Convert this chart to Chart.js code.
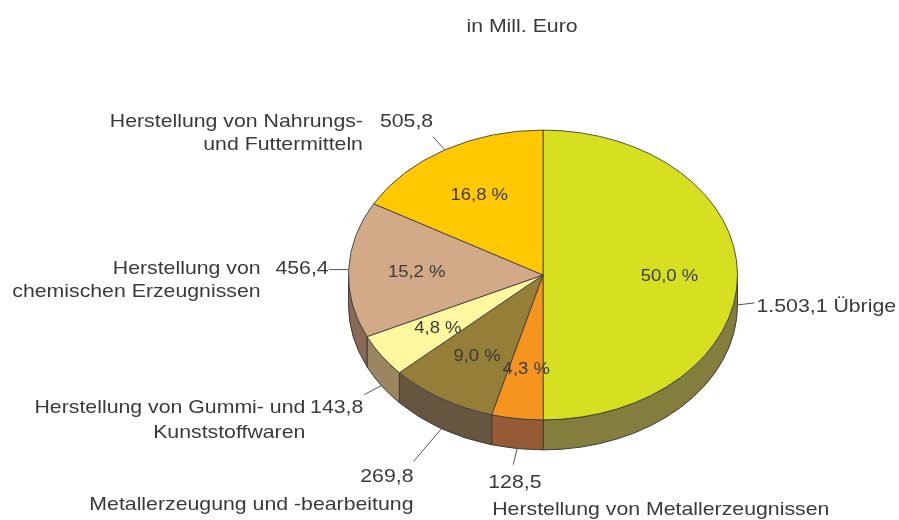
<!DOCTYPE html>
<html>
<head>
<meta charset="utf-8">
<script src="https://cdn.jsdelivr.net/npm/chart.js@4.4.1/dist/chart.umd.min.js"></script>
<style>
  html, body { margin: 0; padding: 0; background: #fff; }
  #wrap { position: relative; width: 899px; height: 520px; }
</style>
</head>
<body>
<div id="wrap"><canvas id="pie3d"></canvas></div>
<script>
// Data (in Mill. Euro), clockwise from 12 o'clock
const labels = ["Übrige", "Herstellung von Metallerzeugnissen", "Metallerzeugung und -bearbeitung",
  "Herstellung von Gummi- und Kunststoffwaren", "Herstellung von chemischen Erzeugnissen",
  "Herstellung von Nahrungs- und Futtermitteln"];
const values = [1503.1, 128.5, 269.8, 143.8, 456.4, 505.8];
const nameLines = [["Übrige"], ["Herstellung von Metallerzeugnissen"], ["Metallerzeugung und -bearbeitung"],
  ["Herstellung von Gummi- und", "Kunststoffwaren"], ["Herstellung von", "chemischen Erzeugnissen"],
  ["Herstellung von Nahrungs-", "und Futtermitteln"]];

const topColors = ['#d6e020', '#f5941e', '#947e38', '#fff7a0', '#d2aa87', '#ffc800'];
const sideColors = ['#837e3e', '#955a36', '#665640', '#9a8660', '#8a6a55', '#a08000'];

//------------------------------------------

// german number format
function de(v) {
  const [i, f] = v.toFixed(1).split('.');
  return i.replace(/\B(?=(\d{3})+(?!\d))/g, '.') + ',' + f;
}

// text is slightly wide in the original
function txt(ctx, s, x, y, align, size) {
  ctx.save();
  ctx.font = size + "px 'Liberation Sans', Arial, sans-serif";
  ctx.textAlign = align;
  ctx.textBaseline = 'alphabetic';
  ctx.translate(x, y);
  ctx.scale(1.12, 1);
  ctx.fillText(s, 0, 0);
  ctx.restore();
}

// label placement relative to the anchor on the pie rim
// wall: anchor sits at the bottom of the side wall
// line: end of leader line, val: value text, name: name block (last = line height)
const place = [
  {wall: true, line: [17, -2], val: [19, 7, 'left'], name: null},
  {wall: true, line: [-4, 16], val: [-29, 39, 'left'], name: [-25, 66, 'left', 23]},
  {wall: true, line: [-28, 33], val: [-28, 53, 'right'], name: [-28, 81, 'right', 23]},
  {wall: true, line: [-17, 9], val: [-18, 27, 'right'], name: [-76, 27, 'right', 25]},
  {wall: false, line: [-20, 0], val: [-20, 4, 'right'], name: [-88, 4, 'right', 23]},
  {wall: false, line: [-12, -13], val: [-65, -23, 'left'], name: [-82, -23, 'right', 23]}
];

//------------------------------------------

// plugin: tilt the pie, draw the side wall and the labels
const pie3d = {
  id: 'pie3d',
  beforeDatasetsDraw(chart, args, opts) {
    const {ctx} = chart;
    const arcs = chart.getDatasetMeta(0).data;
    const cx = arcs[0].x, cy = arcs[0].y, rx = arcs[0].outerRadius;
    const ry = rx * opts.tilt, d = opts.depth;

    arcs.forEach((arc, i) => {
      const s = Math.max(arc.startAngle, 0), e = Math.min(arc.endAngle, Math.PI);
      if (e <= s) return;
      ctx.beginPath();
      ctx.ellipse(cx, cy, rx, ry, 0, s, e);
      ctx.lineTo(cx + rx * Math.cos(e), cy + d + ry * Math.sin(e));
      ctx.ellipse(cx, cy + d, rx, ry, 0, e, s, true);
      ctx.closePath();
      ctx.fillStyle = sideColors[i];
      ctx.fill();
      ctx.lineWidth = 1;
      ctx.strokeStyle = '#3c3c3c';
      ctx.stroke();
    });

    ctx.save();
    ctx.translate(0, cy);
    ctx.scale(1, opts.tilt);
    ctx.translate(0, -cy);
  },
  afterDatasetsDraw(chart, args, opts) {
    const {ctx} = chart;
    ctx.restore();
    const arcs = chart.getDatasetMeta(0).data;
    const total = values.reduce((a, b) => a + b, 0);
    ctx.fillStyle = '#3a3a3a';

    // title
    txt(ctx, 'in Mill. Euro', 522, 32, 'center', 19);

    arcs.forEach((arc, i) => {
      const cx = arc.x, cy = arc.y, r = arc.outerRadius;
      const mid = (arc.startAngle + arc.endAngle) / 2;
      const c = Math.cos(mid), sn = Math.sin(mid);

      // percentage
      const px = cx + c * r * 0.65, py = cy + sn * r * 0.65 * opts.tilt;
      ctx.fillStyle = '#3a3a3a';
      txt(ctx, de(values[i] / total * 100) + ' %', px, py + 6, 'center', 16.5);

      // anchor on rim
      const p = place[i];
      const ax = cx + c * r, ay = cy + sn * r * opts.tilt + (p.wall ? opts.depth : 0);
      ctx.beginPath();
      ctx.moveTo(ax, ay);
      ctx.lineTo(ax + p.line[0], ay + p.line[1]);
      ctx.lineWidth = 1;
      ctx.strokeStyle = '#555';
      ctx.stroke();

      const valText = i === 0 ? de(values[i]) + ' ' + nameLines[i][0] : de(values[i]);
      txt(ctx, valText, ax + p.val[0], ay + p.val[1], p.val[2], 19);
      if (p.name) {
        nameLines[i].forEach((ln, k) => {
          txt(ctx, ln, ax + p.name[0], ay + p.name[1] + k * p.name[3], p.name[2], 19);
        });
      }
    });
  }
};

//------------------------------------------

const config = {
  type: 'pie',
  data: {
    labels: labels,
    datasets: [{
      data: values,
      backgroundColor: topColors,
      borderColor: '#3c3c3c',
      borderWidth: 1
    }]
  },
  options: {
    responsive: true,
    maintainAspectRatio: false,
    animation: false,
    layout: {padding: {left: 348, right: 161, top: 80, bottom: 50}},
    plugins: {
      legend: {display: false},
      tooltip: {enabled: false},
      title: {display: false},
      pie3d: {tilt: 0.745, depth: 30}
    }
  },
  plugins: [pie3d]
};

const chart = new Chart(document.getElementById('pie3d'), config);
</script>
</body>
</html>
